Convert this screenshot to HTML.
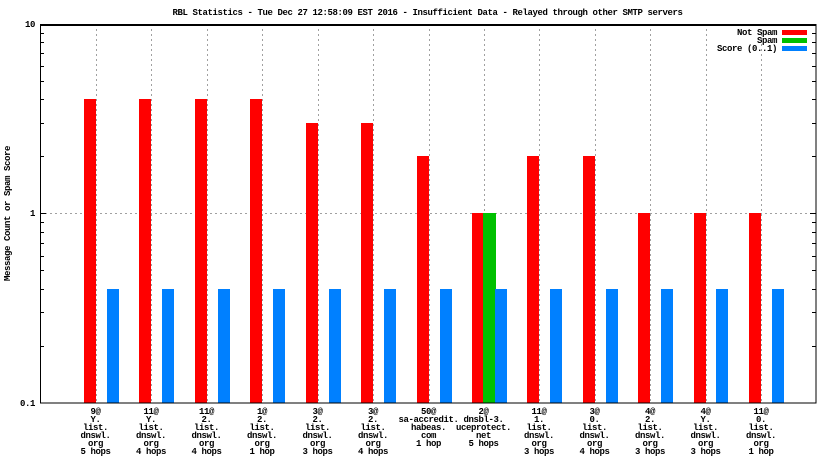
<!DOCTYPE html>
<html><head><meta charset="utf-8"><style>
html,body{margin:0;padding:0;background:#fff;}
svg{display:block;}
text{font-family:"Liberation Mono","DejaVu Sans Mono",monospace;font-size:9px;font-weight:bold;letter-spacing:-0.4px;fill:#000;}
</style></head><body>
<svg width="832" height="468" viewBox="0 0 832 468" xmlns="http://www.w3.org/2000/svg" shape-rendering="crispEdges">
<rect width="832" height="468" fill="#fff"/>
<text x="427.5" y="15" text-anchor="middle">RBL Statistics - Tue Dec 27 12:58:09 EST 2016 - Insufficient Data - Relayed through other SMTP servers</text>

<!-- gridlines -->
<g stroke="#a0a0a0" stroke-width="1" stroke-dasharray="2,3" fill="none">
<line x1="40" y1="213.5" x2="816" y2="213.5"/>
<line x1="96.5" y1="24" x2="96.5" y2="403"/>
<line x1="151.5" y1="24" x2="151.5" y2="403"/>
<line x1="207.5" y1="24" x2="207.5" y2="403"/>
<line x1="262.5" y1="24" x2="262.5" y2="403"/>
<line x1="318.5" y1="24" x2="318.5" y2="403"/>
<line x1="373.5" y1="24" x2="373.5" y2="403"/>
<line x1="429.5" y1="24" x2="429.5" y2="403"/>
<line x1="484.5" y1="24" x2="484.5" y2="403"/>
<line x1="539.5" y1="24" x2="539.5" y2="403"/>
<line x1="595.5" y1="24" x2="595.5" y2="403"/>
<line x1="650.5" y1="24" x2="650.5" y2="403"/>
<line x1="706.5" y1="24" x2="706.5" y2="403"/>
<line x1="761.5" y1="24" x2="761.5" y2="403"/>
</g>

<!-- bars -->
<g fill="#ff0000">
<rect x="84" y="99" width="12" height="304"/>
<rect x="139" y="99" width="12" height="304"/>
<rect x="195" y="99" width="12" height="304"/>
<rect x="250" y="99" width="12" height="304"/>
<rect x="306" y="123" width="12" height="280"/>
<rect x="361" y="123" width="12" height="280"/>
<rect x="417" y="156" width="12" height="247"/>
<rect x="472" y="213" width="11" height="190"/>
<rect x="527" y="156" width="12" height="247"/>
<rect x="583" y="156" width="12" height="247"/>
<rect x="638" y="213" width="12" height="190"/>
<rect x="694" y="213" width="12" height="190"/>
<rect x="749" y="213" width="12" height="190"/>
</g>
<rect x="483" y="213" width="13" height="190" fill="#00c000"/>
<g fill="#0080ff">
<rect x="107" y="289" width="12" height="114"/>
<rect x="162" y="289" width="12" height="114"/>
<rect x="218" y="289" width="12" height="114"/>
<rect x="273" y="289" width="12" height="114"/>
<rect x="329" y="289" width="12" height="114"/>
<rect x="384" y="289" width="12" height="114"/>
<rect x="440" y="289" width="12" height="114"/>
<rect x="495" y="289" width="12" height="114"/>
<rect x="550" y="289" width="12" height="114"/>
<rect x="606" y="289" width="12" height="114"/>
<rect x="661" y="289" width="12" height="114"/>
<rect x="716" y="289" width="12" height="114"/>
<rect x="772" y="289" width="12" height="114"/>
</g>

<!-- ticks -->
<g stroke="#000" stroke-width="1">
<line x1="40" y1="213.5" x2="46" y2="213.5"/>
<line x1="816" y1="213.5" x2="810" y2="213.5"/>
<g>
<line x1="40" y1="156.5" x2="44" y2="156.5"/><line x1="816" y1="156.5" x2="812" y2="156.5"/>
<line x1="40" y1="123.5" x2="44" y2="123.5"/><line x1="816" y1="123.5" x2="812" y2="123.5"/>
<line x1="40" y1="99.5" x2="44" y2="99.5"/><line x1="816" y1="99.5" x2="812" y2="99.5"/>
<line x1="40" y1="81.5" x2="44" y2="81.5"/><line x1="816" y1="81.5" x2="812" y2="81.5"/>
<line x1="40" y1="66.5" x2="44" y2="66.5"/><line x1="816" y1="66.5" x2="812" y2="66.5"/>
<line x1="40" y1="53.5" x2="44" y2="53.5"/><line x1="816" y1="53.5" x2="812" y2="53.5"/>
<line x1="40" y1="42.5" x2="44" y2="42.5"/><line x1="816" y1="42.5" x2="812" y2="42.5"/>
<line x1="40" y1="33.5" x2="44" y2="33.5"/><line x1="816" y1="33.5" x2="812" y2="33.5"/>
<line x1="40" y1="346.5" x2="44" y2="346.5"/><line x1="816" y1="346.5" x2="812" y2="346.5"/>
<line x1="40" y1="312.5" x2="44" y2="312.5"/><line x1="816" y1="312.5" x2="812" y2="312.5"/>
<line x1="40" y1="289.5" x2="44" y2="289.5"/><line x1="816" y1="289.5" x2="812" y2="289.5"/>
<line x1="40" y1="270.5" x2="44" y2="270.5"/><line x1="816" y1="270.5" x2="812" y2="270.5"/>
<line x1="40" y1="256.5" x2="44" y2="256.5"/><line x1="816" y1="256.5" x2="812" y2="256.5"/>
<line x1="40" y1="243.5" x2="44" y2="243.5"/><line x1="816" y1="243.5" x2="812" y2="243.5"/>
<line x1="40" y1="232.5" x2="44" y2="232.5"/><line x1="816" y1="232.5" x2="812" y2="232.5"/>
<line x1="40" y1="222.5" x2="44" y2="222.5"/><line x1="816" y1="222.5" x2="812" y2="222.5"/>
</g>
</g>

<!-- border -->
<rect x="40.5" y="24.5" width="775.5" height="378.5" fill="none" stroke="#000" stroke-width="1"/>
<line x1="40" y1="25.5" x2="816" y2="25.5" stroke="#000" stroke-width="1"/>

<!-- y labels -->
<text x="35" y="27" text-anchor="end">10</text>
<text x="35" y="216" text-anchor="end">1</text>
<text x="35" y="406" text-anchor="end">0.1</text>
<text transform="translate(10,213.5) rotate(-90)" text-anchor="middle">Message Count or Spam Score</text>

<!-- legend -->
<text x="777" y="35" text-anchor="end">Not Spam</text>
<text x="777" y="43" text-anchor="end">Spam</text>
<text x="777" y="51" text-anchor="end">Score (0..1)</text>
<rect x="782" y="30" width="25" height="5" fill="#ff0000"/>
<rect x="782" y="38" width="25" height="5" fill="#00c000"/>
<rect x="782" y="46" width="25" height="5" fill="#0080ff"/>

<!-- x labels -->
<g text-anchor="middle">
<text x="95.5"><tspan x="95.5" y="414">9@</tspan><tspan x="95.5" y="422">Y.</tspan><tspan x="95.5" y="430">list.</tspan><tspan x="95.5" y="438">dnswl.</tspan><tspan x="95.5" y="446">org</tspan><tspan x="95.5" y="454">5 hops</tspan></text>
<text x="151"><tspan x="151" y="414">11@</tspan><tspan x="151" y="422">Y.</tspan><tspan x="151" y="430">list.</tspan><tspan x="151" y="438">dnswl.</tspan><tspan x="151" y="446">org</tspan><tspan x="151" y="454">4 hops</tspan></text>
<text x="206.5"><tspan x="206.5" y="414">11@</tspan><tspan x="206.5" y="422">2.</tspan><tspan x="206.5" y="430">list.</tspan><tspan x="206.5" y="438">dnswl.</tspan><tspan x="206.5" y="446">org</tspan><tspan x="206.5" y="454">4 hops</tspan></text>
<text x="262"><tspan x="262" y="414">1@</tspan><tspan x="262" y="422">2.</tspan><tspan x="262" y="430">list.</tspan><tspan x="262" y="438">dnswl.</tspan><tspan x="262" y="446">org</tspan><tspan x="262" y="454">1 hop</tspan></text>
<text x="317.5"><tspan x="317.5" y="414">3@</tspan><tspan x="317.5" y="422">2.</tspan><tspan x="317.5" y="430">list.</tspan><tspan x="317.5" y="438">dnswl.</tspan><tspan x="317.5" y="446">org</tspan><tspan x="317.5" y="454">3 hops</tspan></text>
<text x="373"><tspan x="373" y="414">3@</tspan><tspan x="373" y="422">2.</tspan><tspan x="373" y="430">list.</tspan><tspan x="373" y="438">dnswl.</tspan><tspan x="373" y="446">org</tspan><tspan x="373" y="454">4 hops</tspan></text>
<text x="428.5"><tspan x="428.5" y="414">50@</tspan><tspan x="428.5" y="422">sa-accredit.</tspan><tspan x="428.5" y="430">habeas.</tspan><tspan x="428.5" y="438">com</tspan><tspan x="428.5" y="446">1 hop</tspan></text>
<text x="483.5"><tspan x="483.5" y="414">2@</tspan><tspan x="483.5" y="422">dnsbl-3.</tspan><tspan x="483.5" y="430">uceprotect.</tspan><tspan x="483.5" y="438">net</tspan><tspan x="483.5" y="446">5 hops</tspan></text>
<text x="539"><tspan x="539" y="414">11@</tspan><tspan x="539" y="422">1.</tspan><tspan x="539" y="430">list.</tspan><tspan x="539" y="438">dnswl.</tspan><tspan x="539" y="446">org</tspan><tspan x="539" y="454">3 hops</tspan></text>
<text x="594.5"><tspan x="594.5" y="414">3@</tspan><tspan x="594.5" y="422">0.</tspan><tspan x="594.5" y="430">list.</tspan><tspan x="594.5" y="438">dnswl.</tspan><tspan x="594.5" y="446">org</tspan><tspan x="594.5" y="454">4 hops</tspan></text>
<text x="650"><tspan x="650" y="414">4@</tspan><tspan x="650" y="422">2.</tspan><tspan x="650" y="430">list.</tspan><tspan x="650" y="438">dnswl.</tspan><tspan x="650" y="446">org</tspan><tspan x="650" y="454">3 hops</tspan></text>
<text x="705.5"><tspan x="705.5" y="414">4@</tspan><tspan x="705.5" y="422">Y.</tspan><tspan x="705.5" y="430">list.</tspan><tspan x="705.5" y="438">dnswl.</tspan><tspan x="705.5" y="446">org</tspan><tspan x="705.5" y="454">3 hops</tspan></text>
<text x="761"><tspan x="761" y="414">11@</tspan><tspan x="761" y="422">0.</tspan><tspan x="761" y="430">list.</tspan><tspan x="761" y="438">dnswl.</tspan><tspan x="761" y="446">org</tspan><tspan x="761" y="454">1 hop</tspan></text>
</g>
</svg>
</body></html>
